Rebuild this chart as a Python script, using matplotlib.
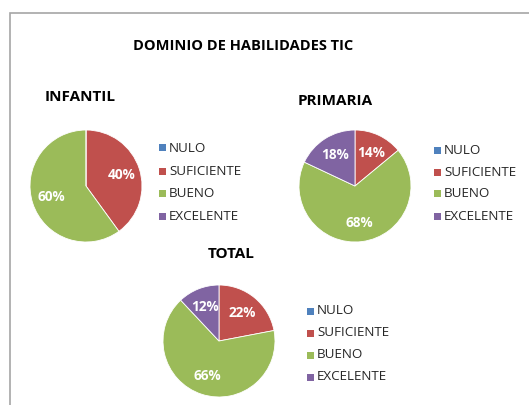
import matplotlib
matplotlib.use("Agg")
import matplotlib.pyplot as plt
from matplotlib.patches import Rectangle

categories = ["NULO", "SUFICIENTE", "BUENO", "EXCELENTE"]
infantil = [0, 40, 60, 0]
primaria = [0, 14, 68, 18]
total = [0, 22, 66, 12]
title = "DOMINIO DE HABILIDADES TIC"
colors = ["#4F81BD", "#C0504D", "#9BBB59", "#8064A2"]

W, H = 529, 405
fig = plt.figure(figsize=(W / 100, H / 100), dpi=100)
plt.rcParams['font.family'] = ['Open Sans', 'DejaVu Sans']

# frame
fig.patches.append(Rectangle((10 / W, -0.05), 1.2, (H - 13) / H + 0.05,
                             transform=fig.transFigure, fill=False,
                             edgecolor="#A6A6A6", linewidth=1.2))

def px_ax(cx, cy, r):
    return fig.add_axes([(cx - r) / W, 1 - (cy + r) / H, 2 * r / W, 2 * r / H])

def draw(vals, cx, cy, r, name, tx, ty, lx, ly, lstep):
    ax = px_ax(cx, cy, r)
    wedges, texts, autotexts = ax.pie(
        vals, colors=colors, startangle=90, counterclock=False,
        autopct=lambda p: f"{p:.0f}%" if p > 0 else "", pctdistance=0.66,
        wedgeprops=dict(linewidth=0.6, edgecolor="white"))
    for t in autotexts:
        t.set_color("white")
        t.set_fontweight("bold")
        t.set_fontsize(9.8)
    ax.set_aspect("equal")
    ax.set_xlim(-1, 1)
    ax.set_ylim(-1, 1)
    fig.text(tx / W, 1 - ty / H, name, fontsize=11, fontweight="bold",
             ha="center", va="center")
    for i, (c, col) in enumerate(zip(categories, colors)):
        y = ly + i * lstep
        fig.patches.append(Rectangle(((lx) / W, 1 - (y + 3.5) / H), 7 / W, 7 / H,
                                     transform=fig.transFigure, facecolor=col,
                                     edgecolor="none"))
        fig.text((lx + 10) / W, 1 - y / H, c, fontsize=9.6, ha="left",
                 va="center", color="#262626")

fig.text(243 / W, 1 - 46 / H, title, fontsize=10.5, fontweight="bold",
         ha="center", va="center")
draw(infantil, 86, 186, 56, "INFANTIL", 80, 97, 159, 148, 23)
draw(primaria, 355, 186, 56, "PRIMARIA", 335, 101, 434, 150, 22)
draw(total, 219, 341, 56, "TOTAL", 231, 254, 307, 311, 22)

fig.savefig("out.png", dpi=100, facecolor="white")
